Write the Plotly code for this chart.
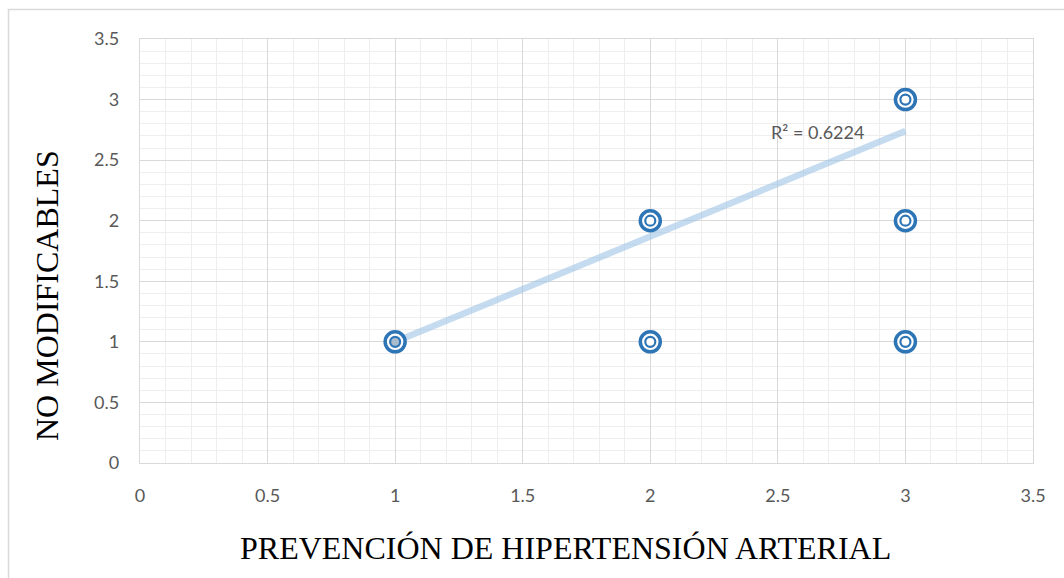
import plotly.graph_objects as go

# Observed pairs (prevention score, non-modifiable factors)
x_vals = [1, 2, 2, 3, 3, 3]
y_vals = [1, 1, 2, 1, 2, 3]

# Linear trendline fitted to the survey responses
trend_slope = 0.87
trend_intercept = 0.13
trend_x = [1, 3]
r_squared = 0.6224

x_ticks = [0, 0.5, 1, 1.5, 2, 2.5, 3, 3.5]
y_ticks = [0, 0.5, 1, 1.5, 2, 2.5, 3, 3.5]

x_title = "PREVENCIÓN DE HIPERTENSIÓN ARTERIAL"
y_title = "NO MODIFICABLES"

BLUE = "#2e75b6"
inner_fill = ["#aabbcc" if (x, y) == (1, 1) else "#ffffff" for x, y in zip(x_vals, y_vals)]

# Plot-area geometry in pixels (used to place titles and the chart frame)
W, H = 1064, 578
L, R, T, B = 140, 31, 39, 115
PW, PH = W - L - R, H - T - B


def px_x(p):
    return (p - L) / PW


def px_y(p):
    return (H - B - p) / PH


fig = go.Figure()

trend_y = [trend_slope * v + trend_intercept for v in trend_x]
fig.add_trace(go.Scatter(
    x=trend_x, y=trend_y, mode="lines",
    line=dict(color="rgba(157,195,230,0.6)", width=6.5),
    hoverinfo="skip", showlegend=False,
))

# Outer ring of each marker
fig.add_trace(go.Scatter(
    x=x_vals, y=y_vals, mode="markers",
    marker=dict(symbol="circle", size=20, color="#ffffff",
                line=dict(color=BLUE, width=3.5)),
    showlegend=False,
))
# Inner ring of each marker
fig.add_trace(go.Scatter(
    x=x_vals, y=y_vals, mode="markers",
    marker=dict(symbol="circle", size=10, color=inner_fill,
                line=dict(color=BLUE, width=2.2)),
    showlegend=False, hoverinfo="skip",
))

fig.add_annotation(
    x=2.845, y=2.73, xref="x", yref="y", xanchor="right", yanchor="middle",
    text=f"R² = {r_squared}", showarrow=False,
    font=dict(family="Lato, Liberation Sans, sans-serif", size=18, color="#595959"),
)

title_font = dict(family="Liberation Serif, Times New Roman, serif", size=32, color="#000000")
fig.add_annotation(
    x=px_x(565), y=px_y(548), xref="paper", yref="paper",
    xanchor="center", yanchor="middle", text=x_title, showarrow=False, font=title_font,
)
fig.add_annotation(
    x=px_x(47), y=px_y(296), xref="paper", yref="paper", textangle=-90,
    xanchor="center", yanchor="middle", text=y_title, showarrow=False, font=title_font,
)

# Chart frame
fig.add_shape(type="rect", xref="paper", yref="paper",
              x0=px_x(8.5), x1=px_x(1100), y0=px_y(600), y1=px_y(9.5),
              line=dict(color="#d9d9d9", width=1.5), fillcolor="rgba(0,0,0,0)", layer="below")

axis_common = dict(
    showgrid=True, gridcolor="#d9d9d9", gridwidth=1.3,
    minor=dict(showgrid=True, gridcolor="#eeeeee", gridwidth=1.3, dtick=0.1),
    zeroline=False, showline=True, linecolor="#d9d9d9", linewidth=1.3, mirror=True,
    tickfont=dict(family="Lato, Liberation Sans, sans-serif", size=18, color="#595959"),
    ticks="", fixedrange=True,
)

fig.update_layout(
    width=W, height=H,
    margin=dict(l=L, r=R, t=T, b=B),
    paper_bgcolor="white", plot_bgcolor="white",
    xaxis=dict(range=[0, 3.5], tickvals=x_ticks, ticktext=[f"{v:g}" for v in x_ticks],
               ticklabelstandoff=16, **axis_common),
    yaxis=dict(range=[0, 3.5], tickvals=y_ticks, ticktext=[f"{v:g}" for v in y_ticks],
               ticklabelstandoff=16, **axis_common),
    showlegend=False,
)

fig.write_html("out.html")
